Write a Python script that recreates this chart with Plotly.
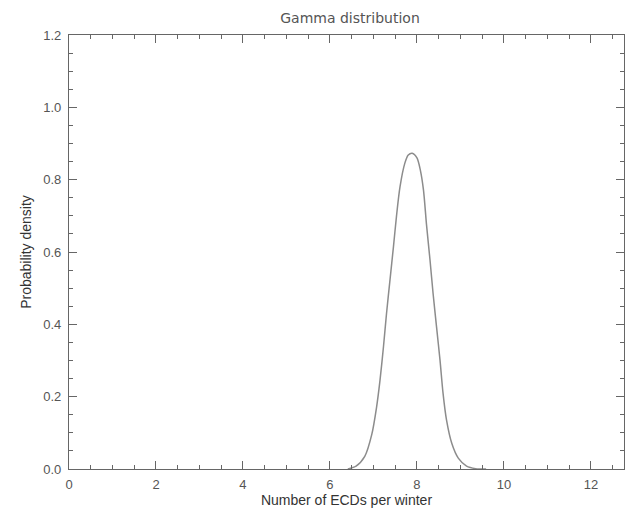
import plotly.graph_objects as go

# Values
x_vals = [6.41, 6.60, 6.80, 6.96, 7.07, 7.15, 7.23, 7.30, 7.38, 7.46, 7.53, 7.61,
          7.72, 7.80, 7.89, 8.00, 8.08, 8.15, 8.22, 8.30, 8.37, 8.45, 8.53, 8.60,
          8.68, 8.80, 8.95, 9.14, 9.35, 9.59]
y_vals = [0.0, 0.008, 0.035, 0.095, 0.170, 0.245, 0.338, 0.430, 0.523, 0.615, 0.700, 0.780,
          0.845, 0.868, 0.873, 0.860, 0.825, 0.771, 0.675, 0.578, 0.486, 0.393, 0.301, 0.209,
          0.135, 0.071, 0.030, 0.008, 0.001, 0.0]

x_ticks = [0, 2, 4, 6, 8, 10, 12]
y_ticks = [0.0, 0.2, 0.4, 0.6, 0.8, 1.0, 1.2]
y_tick_text = ["0.0", "0.2", "0.4", "0.6", "0.8", "1.0", "1.2"]

TEXT = "#555555"
AXIS = "#666666"

fig = go.Figure()
fig.add_trace(go.Scatter(
    x=x_vals, y=y_vals, mode="lines",
    line=dict(color="#8c8c8c", width=1.5, shape="spline", smoothing=0.8),
    showlegend=False, hoverinfo="skip",
))

fig.update_layout(
    width=625, height=514,
    margin=dict(l=69, r=1, t=35, b=45, autoexpand=False),
    paper_bgcolor="white", plot_bgcolor="white",
    title=dict(text="Gamma distribution", x=0.56, xanchor="center", y=0.965, yanchor="middle",
               font=dict(family="DejaVu Sans", size=14, color=TEXT)),
    font=dict(family="Liberation Sans, Arial", size=13, color=TEXT),
)

fig.update_xaxes(
    range=[0, 12.76], tickvals=x_ticks, ticktext=[str(v) for v in x_ticks],
    showgrid=False, zeroline=False, showline=True, linecolor=AXIS, linewidth=1.3,
    mirror="ticks", ticks="inside", ticklen=8, tickwidth=1.3, tickcolor=AXIS,
    minor=dict(dtick=0.5, ticks="inside", ticklen=4, tickwidth=1.3, tickcolor=AXIS, showgrid=False),
    title=dict(text="Number of ECDs per winter", standoff=4, font=dict(size=14, color="#333333")),
    tickfont=dict(size=13, color=TEXT), ticklabelstandoff=3, automargin=False,
)
fig.update_yaxes(
    range=[0, 1.2], tickvals=y_ticks, ticktext=y_tick_text,
    showgrid=False, zeroline=False, showline=True, linecolor=AXIS, linewidth=1.3,
    mirror="ticks", ticks="inside", ticklen=8, tickwidth=1.3, tickcolor=AXIS,
    minor=dict(dtick=0.05, ticks="inside", ticklen=4, tickwidth=1.3, tickcolor=AXIS, showgrid=False),
    title=dict(text="Probability density", standoff=8, font=dict(size=14, color="#333333")),
    tickfont=dict(size=13, color=TEXT), ticklabelstandoff=4, automargin=False,
)

fig.write_html(
    "out.html",
    config={"displayModeBar": False},
    post_script="document.body.style.margin='0';document.body.style.overflow='hidden';",
)
